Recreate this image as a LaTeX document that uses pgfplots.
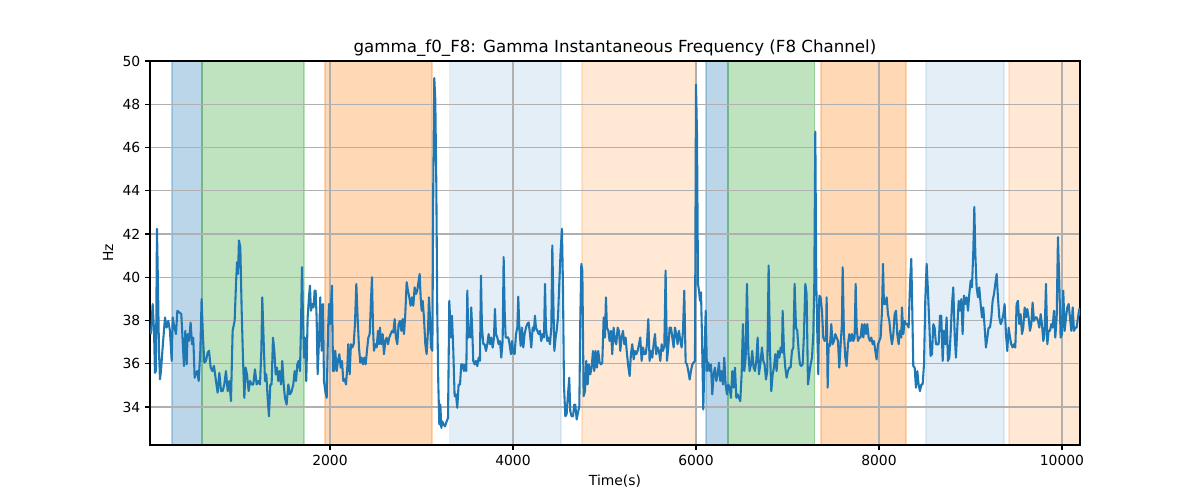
\documentclass[border=0pt]{standalone}
\usepackage{fontspec}
\setmainfont{DejaVu Sans}
\usepackage{pgfplots}
\pgfplotsset{compat=1.18}
\definecolor{tabblue}{RGB}{31,119,180}
\definecolor{taborange}{RGB}{255,127,14}
\definecolor{tabgreen}{RGB}{44,160,44}
\definecolor{gridgray}{RGB}{176,176,176}
\pgfplotsset{span/.style={on layer=axis background, draw=#1, fill=#1, line width=0.8pt}}
\begin{document}
\begin{tikzpicture}
\begin{axis}[
  name=ax, at={(0,0)}, anchor=south west,
  set layers,
  scale only axis, width=669.6pt, height=276.5pt,
  xmin=33, xmax=10197, ymin=32.24, ymax=50,
  xtick={2000,4000,6000,8000,10000},
  ytick={34,36,38,40,42,44,46,48,50},
  xtick pos=bottom, ytick pos=left,
  /pgf/number format/assume math mode=true,
  /pgf/number format/1000 sep={},
  scaled x ticks=false,
  tick label style={font=\fontsize{10}{12}\selectfont},
  tick align=outside, major tick length=3.5pt,
  tick style={black, line width=0.8pt},
  axis line style={line width=0.8pt},
  grid=major, grid style={gridgray, line width=0.8pt},
  xlabel={Time(s)}, ylabel={Hz},
  label style={font=\fontsize{10}{12}\selectfont},
  title={gamma\_f0\_F8: Gamma Instantaneous Frequency (F8 Channel)},
  title style={font=\fontsize{12}{14}\selectfont, yshift=-6pt},
  clip=true,
]
% spans
\addplot[span=tabblue, draw opacity=0.3, fill opacity=0.3] coordinates {(273,32.24) (273,50) (601,50) (601,32.24)} -- cycle;
\addplot[span=tabgreen, draw opacity=0.3, fill opacity=0.3] coordinates {(601,32.24) (601,50) (1716,50) (1716,32.24)} -- cycle;
\addplot[span=taborange, draw opacity=0.3, fill opacity=0.3] coordinates {(1945,32.24) (1945,50) (3115,50) (3115,32.24)} -- cycle;
\addplot[span=tabblue, draw opacity=0.12, fill opacity=0.12] coordinates {(3311,32.24) (3311,50) (4525,50) (4525,32.24)} -- cycle;
\addplot[span=taborange, draw opacity=0.18, fill opacity=0.18] coordinates {(4754,32.24) (4754,50) (6000,50) (6000,32.24)} -- cycle;
\addplot[span=tabblue, draw opacity=0.3, fill opacity=0.3] coordinates {(6109,32.24) (6109,50) (6350,50) (6350,32.24)} -- cycle;
\addplot[span=tabgreen, draw opacity=0.3, fill opacity=0.3] coordinates {(6350,32.24) (6350,50) (7300,50) (7300,32.24)} -- cycle;
\addplot[span=taborange, draw opacity=0.3, fill opacity=0.3] coordinates {(7366,32.24) (7366,50) (8295,50) (8295,32.24)} -- cycle;
\addplot[span=tabblue, draw opacity=0.12, fill opacity=0.12] coordinates {(8514,32.24) (8514,50) (9366,50) (9366,32.24)} -- cycle;
\addplot[span=taborange, draw opacity=0.18, fill opacity=0.18] coordinates {(9421,32.24) (9421,50) (10197,50) (10197,32.24)} -- cycle;
% signal
\addplot[tabblue, line width=1.5pt, line join=round] table {
x y
44 37.37
62 38.76
77 37.52
87 35.58
98 35.66
109 42.24
120 39.69
131 36.6
142 35.28
153 35.66
171 36.75
197 38.14
215 37.67
233 37.98
251 37.52
270 36.13
281 38.14
299 37.67
317 37.37
332 38.45
353 38.37
375 38.3
390 37.06
404 35.89
419 37.52
434 35.97
444 37.37
459 37.06
477 37.9
492 36.9
506 37.2
521 35.35
536 35.58
550 35.66
565 35.2
583 36.6
597 38.99
612 37.2
627 36.05
645 36.13
663 36.51
678 36.6
696 35.82
714 35.66
732 35.9
754 35.2
772 34.66
791 35.58
809 34.73
827 34.73
845 35.04
863 35.66
882 34.73
900 35.2
918 34.27
936 37.52
958 37.98
973 39.69
984 40.69
995 40.15
1005 41.7
1020 41.39
1035 38.45
1049 36.28
1064 34.42
1078 35.82
1093 35.51
1111 34.73
1126 35.2
1144 35.04
1162 35.04
1180 35.74
1199 35.04
1217 35.2
1235 35.04
1250 36.6
1260 39.07
1275 37.06
1290 35.2
1304 35.51
1319 34.42
1333 33.57
1348 35.04
1362 35.04
1377 37.2
1392 36.6
1406 35.51
1421 35.82
1435 35.2
1450 35.66
1464 35.04
1479 36.13
1494 35.04
1508 34.42
1526 34.11
1545 35.04
1563 34.58
1581 34.73
1599 35.04
1614 35.66
1628 35.2
1643 35.97
1657 36.13
1672 35.66
1683 37.67
1694 40.46
1705 38.14
1716 36.28
1727 37.2
1741 35.2
1756 38.14
1770 39.07
1781 39.61
1792 38.45
1807 38.76
1821 38.6
1832 39.38
1843 39.38
1854 38.14
1865 35.51
1880 37.06
1894 39.07
1909 36.6
1924 38.76
1934 35.2
1949 34.73
1964 34.42
1978 37.37
1989 38.76
2000 37.83
2011 38.76
2022 39.61
2033 35.66
2044 35.66
2058 36.6
2073 35.66
2087 36.13
2102 36.44
2117 35.82
2131 36.13
2146 35.2
2160 35.28
2175 35.04
2189 35.82
2200 36.9
2215 35.51
2229 36.9
2244 36.75
2259 36.9
2273 37.83
2288 39.69
2302 38.14
2317 36.75
2331 36.05
2346 36.28
2361 35.97
2375 36.28
2390 35.97
2404 36.6
2419 37.2
2434 37.37
2448 38.91
2459 40.0
2470 37.67
2481 36.6
2495 36.9
2510 36.75
2525 37.52
2535 36.9
2546 37.67
2561 36.9
2576 37.37
2590 36.44
2605 37.06
2619 37.2
2634 36.9
2648 37.2
2663 37.37
2678 37.52
2692 37.44
2707 38.06
2721 37.2
2736 36.9
2750 37.83
2765 37.98
2780 37.52
2794 38.06
2809 37.37
2823 38.3
2838 39.77
2852 39.38
2867 39.07
2881 38.68
2896 39.07
2911 38.68
2925 39.53
2940 39.22
2954 39.38
2969 39.84
2980 40.15
2991 39.07
3002 38.45
3013 38.91
3027 38.14
3042 36.9
3056 36.44
3071 37.52
3082 39.07
3093 38.14
3104 36.75
3119 36.6
3129 44.33
3140 49.21
3151 48.2
3162 44.33
3173 38.14
3184 35.04
3195 33.19
3206 34.11
3217 33.03
3228 33.33
3242 33.19
3257 33.1
3275 33.33
3290 33.49
3304 38.91
3322 37.21
3333 38.22
3348 36.59
3362 34.50
3377 34.58
3391 33.96
3406 35.04
3421 35.04
3435 35.97
3450 35.97
3464 35.66
3479 35.97
3490 35.66
3501 39.38
3512 37.21
3523 37.67
3534 37.21
3544 38.60
3555 37.52
3566 36.13
3581 35.97
3595 36.13
3610 35.89
3625 36.28
3639 36.13
3650 40.07
3661 37.67
3676 36.90
3690 36.90
3705 36.59
3719 36.90
3734 37.37
3748 36.90
3763 37.21
3778 36.74
3792 37.21
3803 38.53
3814 37.37
3829 37.21
3843 36.90
3858 37.05
3872 36.28
3887 37.05
3898 40.93
3909 38.45
3920 37.21
3934 37.21
3949 37.21
3963 36.90
3978 36.44
3989 37.05
4003 36.51
4018 36.44
4033 37.37
4047 37.67
4058 39.10
4069 37.67
4084 36.82
4098 37.67
4113 36.75
4127 37.37
4142 37.67
4156 37.83
4171 37.91
4186 37.37
4200 36.75
4215 37.67
4229 37.52
4240 38.22
4251 37.67
4266 37.52
4280 37.37
4295 37.52
4309 37.05
4324 37.37
4339 37.21
4350 39.69
4360 37.67
4375 37.05
4390 37.21
4404 36.90
4419 37.67
4430 41.47
4441 38.91
4452 36.59
4466 37.21
4477 37.52
4492 38.14
4506 39.69
4521 41.23
4535 42.24
4546 39.69
4557 35.04
4572 33.57
4586 33.65
4601 34.58
4615 35.35
4626 33.80
4641 33.57
4656 33.57
4670 34.11
4681 34.11
4696 33.42
4710 33.73
4725 34.04
4736 38.14
4747 40.62
4758 40.31
4772 34.50
4787 34.73
4801 36.13
4816 35.04
4830 35.97
4845 35.51
4860 35.82
4874 36.59
4889 35.66
4903 36.59
4918 35.82
4932 36.59
4947 36.05
4962 35.97
4976 36.05
4991 38.14
5005 37.21
5016 39.07
5027 37.67
5042 37.52
5056 37.05
5071 37.52
5085 36.44
5100 37.67
5115 37.05
5129 36.90
5144 37.67
5158 37.52
5173 36.59
5187 37.21
5202 37.52
5217 36.90
5231 37.21
5246 36.44
5260 35.89
5275 35.43
5289 36.44
5304 36.90
5319 36.20
5333 36.59
5348 36.44
5362 36.59
5377 36.90
5391 37.21
5406 36.13
5421 36.75
5435 36.44
5450 36.44
5464 36.90
5479 38.06
5493 36.13
5508 36.59
5523 36.28
5537 36.90
5552 37.37
5566 36.44
5581 36.75
5595 36.59
5610 36.13
5625 36.90
5639 36.59
5654 36.82
5668 40.31
5683 36.13
5697 36.75
5712 37.67
5727 37.67
5741 37.21
5756 36.75
5770 37.67
5785 37.37
5799 36.90
5814 37.52
5829 37.05
5843 36.75
5858 37.52
5872 39.38
5887 36.05
5902 35.97
5916 35.66
5931 35.27
5945 35.66
5960 35.97
5974 36.05
5989 36.13
6000 48.90
6011 46.65
6022 39.69
6033 39.38
6044 38.91
6055 39.30
6065 37.37
6080 33.88
6095 36.59
6106 38.45
6120 35.66
6135 36.05
6149 35.66
6164 35.97
6178 34.58
6193 35.51
6207 35.82
6222 35.20
6237 35.51
6251 36.05
6266 35.20
6280 35.66
6295 35.04
6309 36.28
6324 35.04
6339 34.58
6353 35.04
6368 34.89
6382 34.42
6397 35.66
6412 34.89
6426 35.82
6441 34.42
6455 34.58
6470 34.42
6484 34.27
6499 35.51
6513 37.83
6528 35.66
6543 36.28
6557 39.69
6572 36.59
6586 35.66
6601 35.97
6615 36.59
6630 35.82
6645 35.66
6659 36.13
6674 37.21
6688 35.51
6707 36.13
6721 36.75
6736 36.13
6750 35.97
6765 35.27
6779 35.66
6794 40.54
6809 36.59
6823 34.73
6838 35.51
6852 35.82
6867 36.44
6881 35.66
6896 36.59
6911 36.28
6925 36.75
6940 36.51
6947 38.45
6962 36.59
6976 35.82
6991 35.35
7005 35.66
7020 35.82
7034 35.82
7049 36.59
7064 36.75
7078 39.69
7093 37.67
7107 37.52
7122 36.59
7136 35.97
7151 35.89
7166 35.97
7180 37.37
7195 39.69
7209 39.22
7224 35.04
7238 35.51
7253 35.97
7268 36.28
7282 37.37
7293 39.69
7304 46.73
7315 39.69
7326 37.37
7337 35.51
7348 39.15
7362 39.07
7377 38.45
7391 37.21
7406 37.05
7421 37.21
7428 39.07
7439 34.89
7450 36.90
7464 36.82
7479 37.83
7493 36.90
7508 37.05
7523 37.37
7537 37.21
7552 37.05
7566 35.82
7581 36.90
7595 37.83
7603 40.46
7617 37.37
7632 36.28
7646 35.89
7661 36.90
7676 37.37
7690 37.05
7705 37.37
7719 37.05
7734 37.21
7745 39.69
7756 37.67
7770 37.05
7785 37.21
7799 37.21
7814 37.83
7829 37.21
7843 37.83
7858 37.37
7872 37.83
7887 37.21
7901 37.05
7916 37.21
7931 36.90
7945 37.05
7960 36.59
7974 36.20
7989 36.90
8003 37.05
8018 37.21
8033 38.45
8044 40.62
8054 38.76
8069 38.76
8084 39.07
8098 38.29
8113 37.98
8127 37.37
8142 36.90
8157 37.37
8171 38.29
8186 38.45
8200 37.37
8215 36.90
8229 37.52
8244 37.21
8251 38.60
8266 37.37
8280 37.98
8295 37.83
8310 37.83
8324 37.67
8339 39.69
8353 40.85
8364 38.45
8375 35.89
8390 35.82
8404 34.89
8419 35.66
8433 35.04
8448 34.73
8463 35.04
8477 35.04
8492 35.97
8506 38.91
8521 40.62
8535 39.38
8550 37.83
8564 36.36
8579 36.44
8594 37.83
8608 37.67
8623 36.90
8637 36.90
8652 36.90
8667 38.22
8681 38.22
8696 36.13
8710 37.52
8725 36.90
8739 38.14
8754 36.13
8769 36.28
8783 37.37
8798 38.76
8812 39.53
8827 37.37
8841 36.28
8856 37.67
8871 38.91
8885 38.45
8900 38.99
8914 37.37
8929 39.15
8943 38.76
8958 39.07
8973 38.45
8987 39.22
9002 39.84
9016 39.53
9031 41.23
9042 43.25
9053 41.08
9067 39.53
9082 39.07
9096 39.53
9111 38.76
9126 38.14
9140 38.60
9155 37.67
9169 36.75
9184 37.21
9198 37.67
9213 37.67
9228 38.14
9242 38.91
9257 39.22
9271 39.69
9286 40.15
9300 39.07
9315 38.14
9330 37.83
9344 37.98
9359 38.29
9373 38.76
9388 37.37
9402 36.59
9417 37.67
9432 37.21
9446 36.90
9461 36.75
9475 36.90
9490 36.75
9504 38.76
9519 38.91
9533 37.83
9548 38.29
9563 37.37
9577 37.67
9592 38.60
9606 38.14
9621 38.53
9635 38.14
9650 37.52
9665 37.83
9679 38.83
9694 37.98
9708 38.14
9723 38.14
9738 37.98
9752 37.67
9767 38.29
9781 37.83
9796 37.05
9810 37.37
9825 39.69
9840 36.90
9854 37.52
9869 37.52
9883 37.83
9898 37.67
9912 38.45
9927 37.21
9942 38.14
9956 41.85
9971 39.69
9985 37.21
10000 37.37
10014 39.38
10029 37.52
10044 38.14
10058 38.60
10073 38.76
10087 38.14
10102 37.52
10117 38.60
10131 37.52
10146 37.67
10160 37.67
10175 38.14
10189 38.53
10197 38.2
};
\end{axis}
\pgfresetboundingbox
\path (-108pt,-39.6pt) rectangle (756pt,320.4pt);
\end{tikzpicture}
\end{document}
